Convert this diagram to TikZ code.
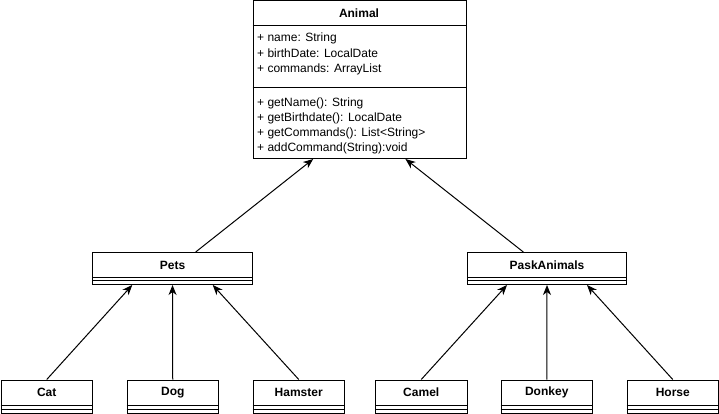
\documentclass[tikz,border=0pt]{standalone}
\usepackage{fontspec}
\setmainfont{Liberation Sans}
\usetikzlibrary{calc,arrows.meta}
\begin{document}
\begin{tikzpicture}[x=1pt,y=-1pt,
  cls/.style={draw,line width=1pt,inner sep=0pt,anchor=north west,rectangle},
  ttl/.style={font=\fontsize{12}{14}\selectfont\bfseries,inner sep=0pt},
  mem/.style={font=\fontsize{12}{14}\selectfont,inner sep=0pt,anchor=west},
  sep/.style={line width=1pt},
  gen/.style={line width=1pt,-{Stealth[length=10pt,width=8pt,inset=3pt]}}]
\useasboundingbox (0,0) rectangle (719,414);
% Animal
\node[cls,minimum width=213.5pt,minimum height=157.5pt] (animal) at (252.5,0.5) {};
\node[ttl] (animalT) at (359,13.5) {Animal};
\draw[sep] (252.5,26) -- (466,26);
\draw[sep] (252.5,88) -- (466,88);
\node[mem] (a1) at (257,38.5) {+ name: String};
\node[mem] (a2) at (257,53.5) {+ birthDate: LocalDate};
\node[mem] (a3) at (257,69) {+ commands: ArrayList};
\node[mem] (m1) at (257,103) {+ getName(): String};
\node[mem] (m2) at (257,118) {+ getBirthdate(): LocalDate};
\node[mem] (m3) at (257,133) {+ getCommands(): List<String>};
\node[mem] (m4) at (257,148) {+ addCommand(String):void};
% Pets / PaskAnimals
\foreach \n/\x/\w/\t in {pets/92/160/Pets, pask/467/159/PaskAnimals}{
  \node[cls,minimum width=\w pt,minimum height=32pt] (\n) at (\x,252) {};
  \node[ttl] (\n T) at ($(\n.north)+(0,13)$) {\t};
  \draw[sep] ($(\n.north west)+(0,25)$) -- ($(\n.north east)+(0,25)$);
  \draw[sep] ($(\n.north west)+(0,28.5)$) -- ($(\n.north east)+(0,28.5)$);
}
% leaves
\foreach \n/\x/\t in {cat/0.5/Cat, dog/126.5/Dog, ham/252.5/Hamster, camel/375/Camel, donkey/500.5/Donkey, horse/626.5/Horse}{
  \node[cls,minimum width=91.5pt,minimum height=33.5pt] (\n) at (\x,379.5) {};
  \node[ttl,font=\fontsize{12}{14}\selectfont\bfseries] (\n T) at ($(\n.north)+(0,13)$) {\t};
  \draw[sep] ($(\n.north west)+(0,25.5)$) -- ($(\n.north east)+(0,25.5)$);
  \draw[sep] ($(\n.north west)+(0,29.5)$) -- ($(\n.north east)+(0,29.5)$);
}
% generalisation arrows
\draw[gen] ($(pets.north west)!0.644!(pets.north east)$) -- ($(animal.south west)!0.283!(animal.south east)$);
\draw[gen] ($(pask.north west)!0.352!(pask.north east)$) -- ($(animal.south west)!0.713!(animal.south east)$);
\draw[gen] (cat.north) -- ($(pets.south west)!0.25!(pets.south east)$);
\draw[gen] (dog.north) -- (pets.south);
\draw[gen] (ham.north) -- ($(pets.south west)!0.75!(pets.south east)$);
\draw[gen] (camel.north) -- ($(pask.south west)!0.25!(pask.south east)$);
\draw[gen] (donkey.north) -- (pask.south);
\draw[gen] (horse.north) -- ($(pask.south west)!0.75!(pask.south east)$);
\end{tikzpicture}
\end{document}
